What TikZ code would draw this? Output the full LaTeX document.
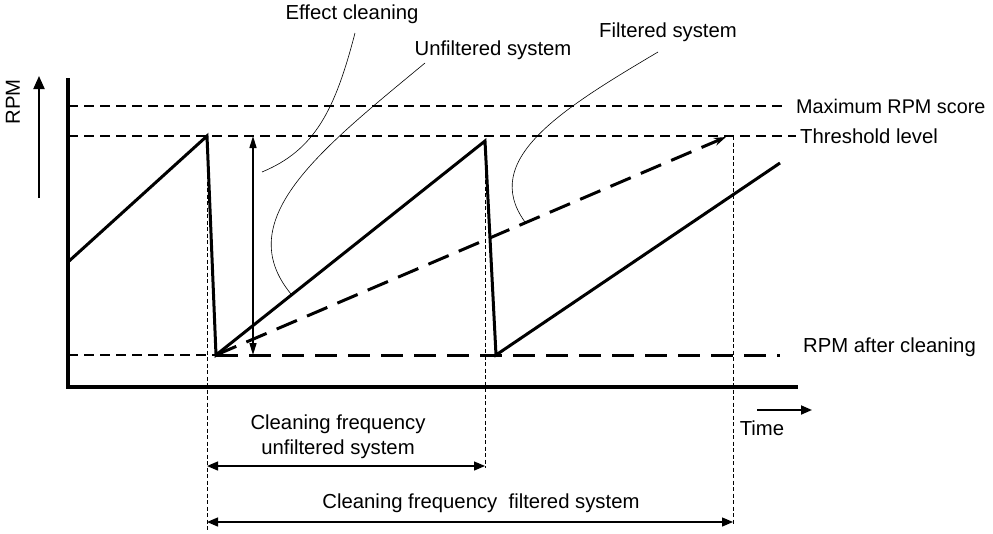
\documentclass[tikz,border=0pt]{standalone}
\usepackage{fontspec}
\setmainfont{Liberation Sans}
\usetikzlibrary{arrows.meta}
\begin{document}
\begin{tikzpicture}[x=1pt,y=-1pt,
  lbl/.style={font=\fontsize{20.3}{25}\selectfont, inner sep=0pt},
  axisline/.style={line width=4pt},
  saw/.style={line width=3pt, line join=miter},
  guide/.style={line width=1.6pt, dash pattern=on 10pt off 6pt},
  filt/.style={line width=3pt, dash pattern=on 22pt off 11pt},
  vguide/.style={line width=0.8pt, dash pattern=on 4pt off 2.5pt},
  dimarrow/.style={line width=1.3pt, {Triangle[length=11pt,width=9pt]}-{Triangle[length=11pt,width=9pt]}},
  effarrow/.style={line width=1.5pt, {Triangle[length=12pt,width=7pt]}-{Triangle[length=12pt,width=7pt]}},
  leader/.style={line width=0.6pt}
]
\useasboundingbox (0,0) rectangle (993,533);
% key points
\coordinate (Ytop) at (68,78);
\coordinate (O) at (68,387);
\coordinate (Xend) at (798,387);
\coordinate (s0) at (68,262);
\coordinate (p1) at (207,136);
\coordinate (b1) at (216,355);
\coordinate (p2) at (485,141);
\coordinate (b2) at (496,355);
\coordinate (e3) at (780,163);
\coordinate (fEnd) at (726,137);
% horizontal reference lines
\coordinate (maxL) at (68,106);
\coordinate (maxR) at (788,106);
\coordinate (thrL) at (68,136);
\coordinate (thrR) at (796,136);
\coordinate (aftL) at (68,355);
\coordinate (aftR) at (780,355);
\draw[guide] (maxL) -- (maxR);
\draw[guide] (thrL) -- (thrR);
\draw[guide] (aftL) -- (b1);
\draw[filt] (b1) -- (aftR);
% vertical thin guides
\coordinate (v1b) at (207,531);
\coordinate (v2b) at (485,468);
\coordinate (v3t) at (733,136);
\coordinate (v3b) at (733,524);
\draw[vguide] (p1) -- (v1b);
\draw[vguide] (p2) -- (v2b);
\draw[vguide] (v3t) -- (v3b);
% axes
\draw[axisline] (Ytop) -- (O) -- (Xend);
% sawtooth
\draw[saw] (s0) -- (p1) -- (b1) -- (p2) -- (b2) -- (e3);
% filtered system
\draw[filt, -{Stealth[length=12pt,width=8pt]}] (b1) -- (fEnd);
% effect cleaning arrow
\coordinate (ecT) at (253,136);
\coordinate (ecB) at (253,355);
\draw[effarrow] (ecT) -- (ecB);
% dimension arrows
\coordinate (d1L) at (207,466);
\coordinate (d1R) at (485,466);
\coordinate (d2L) at (207,522);
\coordinate (d2R) at (733,522);
\draw[dimarrow] (d1L) -- (d1R);
\draw[dimarrow] (d2L) -- (d2R);
% axis arrows
\coordinate (rpmB) at (39,198);
\coordinate (rpmT) at (39,76);
\draw[line width=2pt, -{Triangle[length=13pt,width=11pt]}] (rpmB) -- (rpmT);
\coordinate (tL) at (757,410);
\coordinate (tR) at (812,410);
\draw[line width=1.8pt, -{Triangle[length=11pt,width=9pt]}] (tL) -- (tR);
% labels
\node[lbl, rotate=90] (rpm) at (13,102) {RPM};
\node[lbl] (time) at (762,428) {Time};
\node[lbl, anchor=west, font=\fontsize{19.8}{25}\selectfont] (maxlbl) at (796,106) {Maximum RPM score};
\node[lbl, anchor=west] (thrlbl) at (800,136) {Threshold level};
\node[lbl, anchor=west] (aftlbl) at (803,347) {RPM after cleaning};
\node[lbl] (efflbl) at (352,14) {Effect cleaning};
\node[lbl] (unflbl) at (493,50) {Unfiltered system};
\node[lbl] (fillbl) at (668,32) {Filtered system};
\node[lbl, align=center] (cfu) at (338,437) {Cleaning frequency\\unfiltered system};
\node[lbl] (cff) at (481,503) {Cleaning frequency\ \ filtered system};
% leader curves
\coordinate (l1a) at (355,33);
\coordinate (l1b) at (262,172);
\draw[leader] (l1a) .. controls (335,110) and (315,150) .. (l1b);
\coordinate (l2a) at (425,63);
\coordinate (l2b) at (291,294);
\draw[leader] (l2a) .. controls (320,150) and (230,220) .. (l2b);
\coordinate (l3a) at (658,52);
\coordinate (l3b) at (525,222);
\draw[leader] (l3a) .. controls (560,110) and (480,160) .. (l3b);
\end{tikzpicture}
\end{document}
